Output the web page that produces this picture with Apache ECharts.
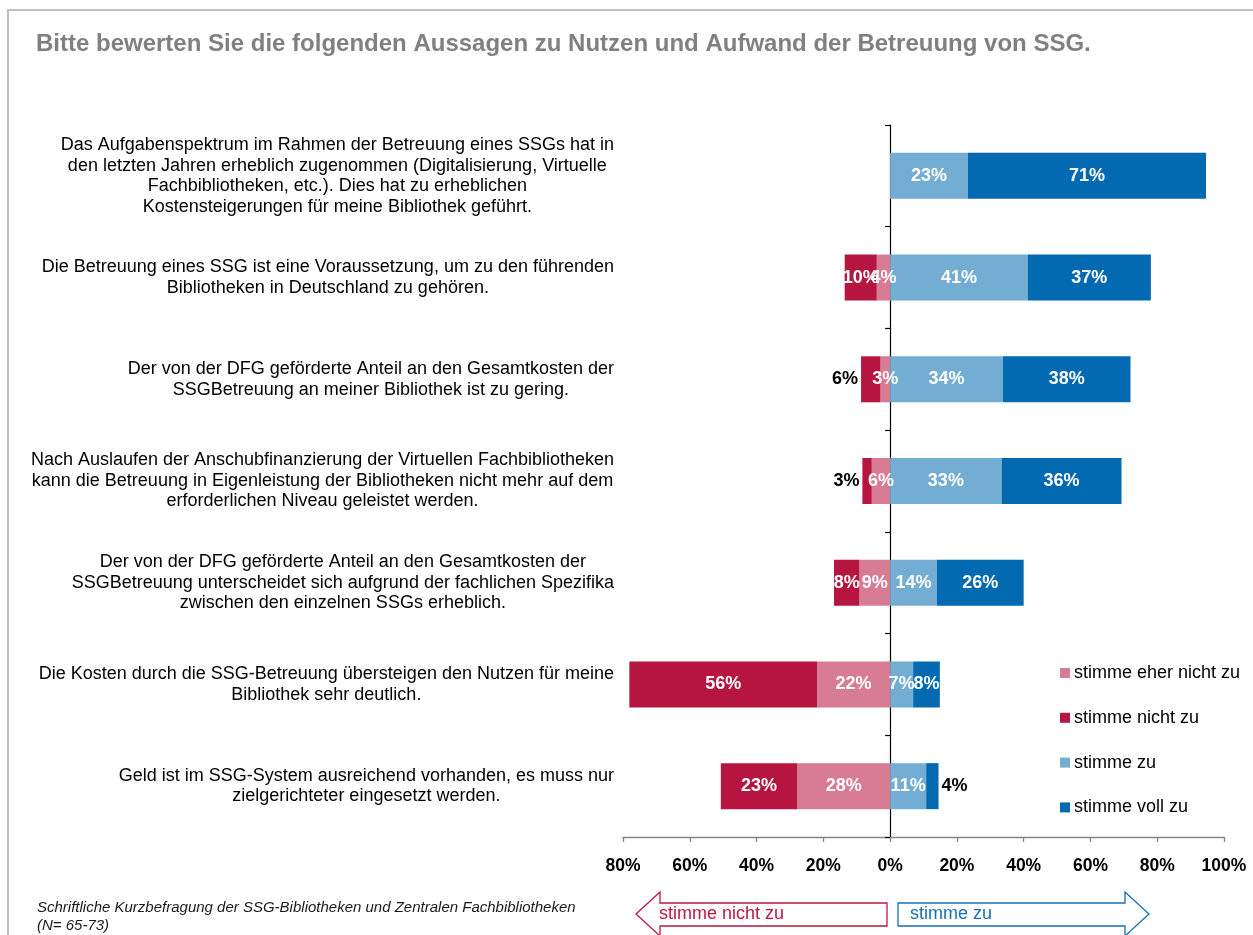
<!DOCTYPE html>
<html>
<head>
<meta charset="utf-8">
<script src="https://cdn.jsdelivr.net/npm/echarts@6/dist/echarts.min.js"></script>
<style>
html,body{margin:0;padding:0;background:#fff;}
#chart{width:1253px;height:935px;}
</style>
</head>
<body>
<div id="chart"></div>
<script>
// ---- data ----
var categories = [
  "Das Aufgabenspektrum im Rahmen der Betreuung eines SSGs hat in\nden letzten Jahren erheblich zugenommen (Digitalisierung, Virtuelle\nFachbibliotheken, etc.). Dies hat zu erheblichen\nKostensteigerungen für meine Bibliothek geführt.",
  "Die Betreuung eines SSG ist eine Voraussetzung, um zu den führenden\nBibliotheken in Deutschland zu gehören.",
  "Der von der DFG geförderte Anteil an den Gesamtkosten der\nSSGBetreuung an meiner Bibliothek ist zu gering.",
  "Nach Auslaufen der Anschubfinanzierung der Virtuellen Fachbibliotheken\nkann die Betreuung in Eigenleistung der Bibliotheken nicht mehr auf dem\nerforderlichen Niveau geleistet werden.",
  "Der von der DFG geförderte Anteil an den Gesamtkosten der\nSSGBetreuung unterscheidet sich aufgrund der fachlichen Spezifika\nzwischen den einzelnen SSGs erheblich.",
  "Die Kosten durch die SSG-Betreuung übersteigen den Nutzen für meine\nBibliothek sehr deutlich.",
  "Geld ist im SSG-System ausreichend vorhanden, es muss nur\nzielgerichteter eingesetzt werden."
];
var seriesNames = ["stimme eher nicht zu", "stimme nicht zu", "stimme zu", "stimme voll zu"];
var eherNichtZu = [0, 4.0, 2.9, 5.5, 9.2, 21.9, 27.8];
var nichtZu     = [0, 9.6, 5.8, 2.8, 7.6, 56.2, 22.9];
var zu          = [23.3, 41.2, 33.8, 33.4, 14.0, 6.9, 10.8];
var vollZu      = [71.3, 36.9, 38.2, 35.9, 26.0, 8.0, 3.7];
var xTicks = [-80, -60, -40, -20, 0, 20, 40, 60, 80, 100];
var title = "Bitte bewerten Sie die folgenden Aussagen zu Nutzen und Aufwand der Betreuung von SSG.";
var footnote = "Schriftliche Kurzbefragung der SSG-Bibliotheken und Zentralen Fachbibliotheken\n(N= 65-73)";

// ---- styles ----
var FONT = "'Liberation Sans', Arial, sans-serif";
var colors = ["#D77C93", "#B5153F", "#74ADD4", "#0369B1"];

function buildData(values, sign, outermost) {
  return values.map(function (v) {
    var item = { value: sign * v };
    var r = Math.round(v);
    if (r === 0) {
      item.label = { show: false };
    } else if (outermost && r < 7) {
      item.label = { position: sign < 0 ? 'left' : 'right', color: '#000', distance: 3 };
    }
    return item;
  });
}

var labelBase = {
  show: true,
  position: 'inside',
  color: '#fff',
  fontWeight: 'bold',
  fontSize: 18,
  fontFamily: FONT,
  formatter: function (p) { return Math.round(Math.abs(p.value)) + '%'; }
};

var seriesValues = [
  buildData(eherNichtZu, -1, false),
  buildData(nichtZu, -1, true),
  buildData(zu, 1, false),
  buildData(vollZu, 1, true)
];

var series = seriesNames.map(function (n, i) {
  return {
    name: n,
    type: 'bar',
    stack: 'all',
    barWidth: 46,
    itemStyle: { color: colors[i] },
    label: labelBase,
    data: seriesValues[i]
  };
});

var chart = echarts.init(document.getElementById('chart'), null, { renderer: 'canvas' });
chart.setOption({
  animation: false,
  textStyle: { fontFamily: FONT },
  title: [
    { text: title, left: 36, top: 32, padding: 0,
      textStyle: { fontSize: 24, fontWeight: 'bold', color: '#808080', fontFamily: FONT } },
    { text: footnote, left: 37, top: 899, padding: 0,
      textStyle: { fontSize: 15, fontStyle: 'italic', fontWeight: 'normal', color: '#1a1a1a', lineHeight: 18, fontFamily: FONT } }
  ],
  legend: {
    data: seriesNames,
    orient: 'vertical',
    left: 1060,
    top: 664,
    padding: 0,
    icon: 'rect',
    itemWidth: 10,
    itemHeight: 10,
    itemGap: 26.8,
    textStyle: { fontSize: 18, color: '#000', padding: [0, 0, 0, -1], lineHeight: 18, fontFamily: FONT }
  },
  grid: { left: 623, right: 29, top: 125, bottom: 98, containLabel: false, outerBoundsMode: 'none' },
  xAxis: {
    type: 'value',
    min: xTicks[0],
    max: xTicks[xTicks.length - 1],
    interval: 20,
    axisLine: { show: true, lineStyle: { color: '#868686', width: 1.3 } },
    axisTick: { show: true, length: 5, lineStyle: { color: '#868686', width: 1.3 } },
    splitLine: { show: false },
    axisLabel: {
      margin: 20,
      fontSize: 17.5,
      fontWeight: 'bold',
      color: '#000',
      fontFamily: FONT,
      formatter: function (v) { return Math.abs(v) + '%'; }
    }
  },
  yAxis: {
    type: 'category',
    inverse: true,
    data: categories,
    axisLine: { show: true, onZero: true, lineStyle: { color: '#000', width: 1.2 } },
    axisTick: { show: true, length: 5, interval: 0, lineStyle: { color: '#000', width: 1.2 } },
    axisLabel: {
      interval: 0,
      margin: 9,
      formatter: function (v) {
        return v.split('\n').map(function (l) { return '{c|' + l + '}'; }).join('\n');
      },
      rich: {
        c: { align: 'center', fontSize: 18, lineHeight: 20.5, color: '#000', fontFamily: FONT }
      }
    }
  },
  graphic: [
    { type: 'polyline', silent: true, z: 100,
      shape: { points: [[8, 935], [8, 10], [1253, 10]] },
      style: { stroke: '#BFBFBF', lineWidth: 2, fill: null } },
    { type: 'polygon', silent: true, z: 100,
      shape: { points: [[636, 914], [660, 892], [660, 903], [887, 903], [887, 926], [660, 926], [660, 936]] },
      style: { stroke: '#C0173F', lineWidth: 1.3, fill: '#fff' } },
    { type: 'text', silent: true, z: 101, left: 659, top: 905,
      style: { text: 'stimme nicht zu', fontSize: 18, fill: '#C0173F', fontFamily: FONT } },
    { type: 'polygon', silent: true, z: 100,
      shape: { points: [[1149, 914], [1125, 892], [1125, 903], [898, 903], [898, 926], [1125, 926], [1125, 936]] },
      style: { stroke: '#1670B8', lineWidth: 1.3, fill: '#fff' } },
    { type: 'text', silent: true, z: 101, left: 910, top: 905,
      style: { text: 'stimme zu', fontSize: 18, fill: '#1670B8', fontFamily: FONT } }
  ],
  series: series
});
</script>
</body>
</html>
